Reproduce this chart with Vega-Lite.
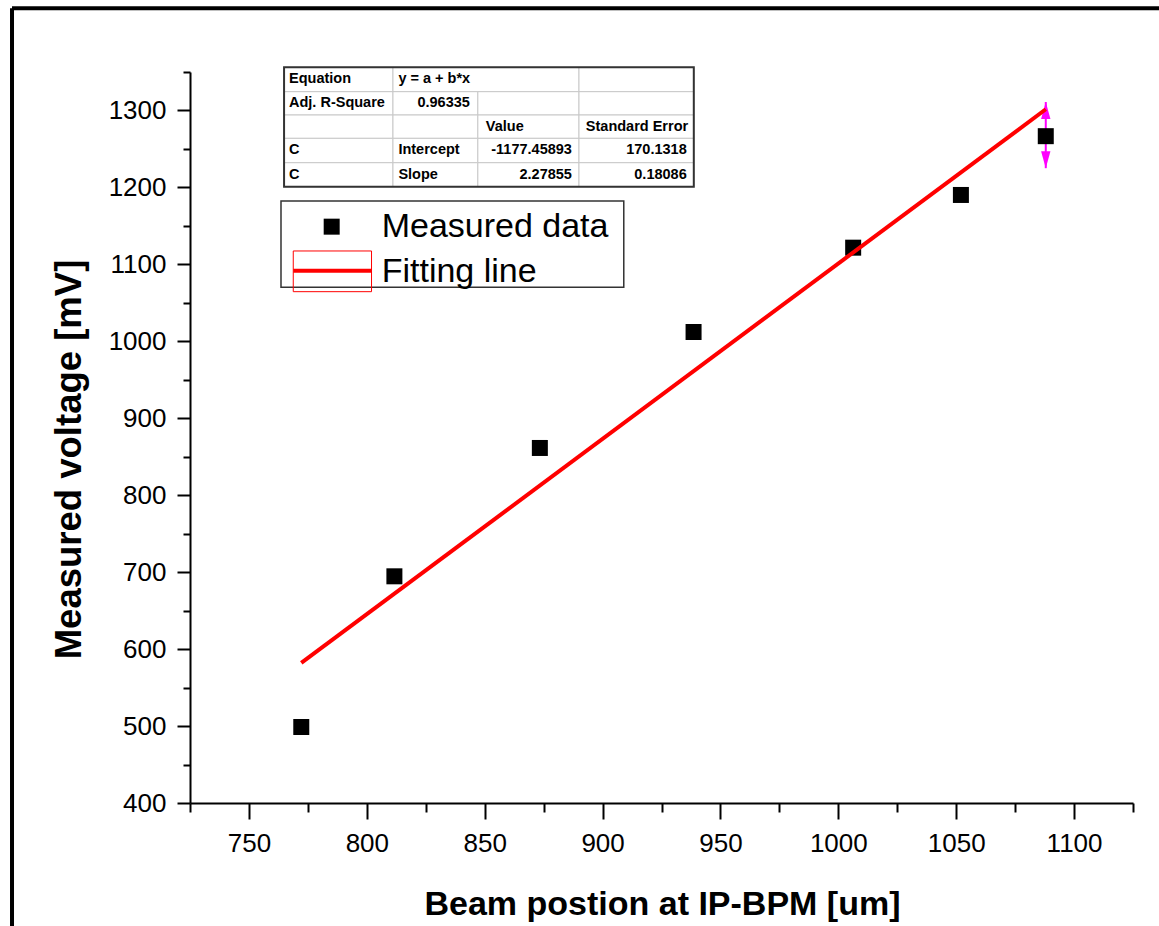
{
  "$schema": "https://vega.github.io/schema/vega-lite/v6.json",
  "autosize": {"type": "none"},
  "padding": {"left": 190, "top": 72, "right": 26, "bottom": 123},
  "width": 943,
  "height": 731,
  "background": "white",
  "config": {
    "view": {"stroke": null},
    "axis": {
      "domainColor": "black", "domainWidth": 2, "tickColor": "black", "tickWidth": 2,
      "labelFont": "Liberation Sans", "labelFontSize": 26, "labelColor": "black",
      "titleFont": "Liberation Sans", "titleFontSize": 34, "titleFontWeight": "bold", "titleColor": "black",
      "grid": false, "labelOverlap": false, "labelFlush": false
    }
  },
  "datasets": {
    "measured": [
      {"x": 772.2, "y": 498.8}, {"x": 811.7, "y": 694.6}, {"x": 873.4, "y": 861.4},
      {"x": 938.6, "y": 1012.1}, {"x": 1006.3, "y": 1121.7}, {"x": 1052.0, "y": 1190.2},
      {"x": 1088.0, "y": 1266.6}
    ],
    "fit": [{"x": 772.2, "y": 582.0}, {"x": 1088.0, "y": 1301.6}],
    "errbar": [{"x": 1088.0, "y": 1225, "y2": 1311}],
    "frame": [
      {"x": 649.5, "x2": 1140, "y": 1433, "y2": 1433},
      {"x": 649.5, "x2": 649.5, "y": 1433, "y2": 230}
    ],
    "cells": [
      {"x": 764.9, "x2": 811.1, "y": 1356.1, "y2": 1324.4},
      {"x": 811.1, "x2": 890.0, "y": 1356.1, "y2": 1324.4},
      {"x": 890.0, "x2": 938.7, "y": 1356.1, "y2": 1324.4},
      {"x": 764.9, "x2": 811.1, "y": 1324.4, "y2": 1294.1},
      {"x": 811.1, "x2": 847.1, "y": 1324.4, "y2": 1294.1},
      {"x": 847.1, "x2": 890.0, "y": 1324.4, "y2": 1294.1},
      {"x": 890.0, "x2": 938.7, "y": 1324.4, "y2": 1294.1},
      {"x": 764.9, "x2": 811.1, "y": 1294.1, "y2": 1263.8},
      {"x": 811.1, "x2": 847.1, "y": 1294.1, "y2": 1263.8},
      {"x": 847.1, "x2": 890.0, "y": 1294.1, "y2": 1263.8},
      {"x": 890.0, "x2": 938.7, "y": 1294.1, "y2": 1263.8},
      {"x": 764.9, "x2": 811.1, "y": 1263.8, "y2": 1232.1},
      {"x": 811.1, "x2": 847.1, "y": 1263.8, "y2": 1232.1},
      {"x": 847.1, "x2": 890.0, "y": 1263.8, "y2": 1232.1},
      {"x": 890.0, "x2": 938.7, "y": 1263.8, "y2": 1232.1},
      {"x": 764.9, "x2": 811.1, "y": 1232.1, "y2": 1200.9},
      {"x": 811.1, "x2": 847.1, "y": 1232.1, "y2": 1200.9},
      {"x": 847.1, "x2": 890.0, "y": 1232.1, "y2": 1200.9},
      {"x": 890.0, "x2": 938.7, "y": 1232.1, "y2": 1200.9}
    ],
    "tableBox": [{"x": 764.9, "x2": 938.7, "y": 1356.1, "y2": 1200.9}],
    "tableLeft": [
      {"x": 767.0, "y": 1340.3, "t": "Equation"},
      {"x": 813.4, "y": 1340.3, "t": "y = a + b*x"},
      {"x": 767.0, "y": 1309.2, "t": "Adj. R-Square"},
      {"x": 850.5, "y": 1278.9, "t": "Value"},
      {"x": 892.9, "y": 1278.9, "t": "Standard Error"},
      {"x": 767.0, "y": 1248.0, "t": "C"},
      {"x": 813.4, "y": 1248.0, "t": "Intercept"},
      {"x": 767.0, "y": 1216.5, "t": "C"},
      {"x": 813.4, "y": 1216.5, "t": "Slope"}
    ],
    "tableRight": [
      {"x": 843.7, "y": 1309.2, "t": "0.96335"},
      {"x": 887.0, "y": 1248.0, "t": "-1177.45893"},
      {"x": 935.7, "y": 1248.0, "t": "170.1318"},
      {"x": 887.0, "y": 1216.5, "t": "2.27855"},
      {"x": 935.7, "y": 1216.5, "t": "0.18086"}
    ],
    "legendBox": [{"x": 763.6, "x2": 909.0, "y": 1182.4, "y2": 1070.2}],
    "legendSquare": [{"x": 785.1, "y": 1149.0}],
    "legendLineBox": [{"x": 768.8, "x2": 802.0, "y": 1117.4, "y2": 1064.5}],
    "legendLine": [{"x": 768.8, "x2": 802.0, "y": 1091.8, "y2": 1091.8}],
    "legendText": [
      {"x": 806.3, "y": 1136.0, "t": "Measured data"},
      {"x": 806.3, "y": 1077.5, "t": "Fitting line"}
    ]
  },
  "encoding": {
    "x": {
      "field": "x", "type": "quantitative",
      "scale": {"domain": [725, 1125], "nice": false, "zero": false},
      "title": "Beam postion at IP-BPM [um]",
      "axis": {
        "values": [725, 750, 775, 800, 825, 850, 875, 900, 925, 950, 975, 1000, 1025, 1050, 1075, 1100, 1125],
        "labelExpr": "datum.value % 50 === 0 ? '' + datum.value : ''",
        "tickSize": {"condition": {"test": "datum.value % 50 === 0", "value": 16}, "value": 9},
        "labelBaseline": "alphabetic",
        "labelPadding": 32,
        "titleX": 472, "titleY": 111, "titleBaseline": "alphabetic"
      }
    },
    "y": {
      "field": "y", "type": "quantitative",
      "scale": {"domain": [400, 1350], "nice": false, "zero": false},
      "title": "Measured voltage [mV]",
      "axis": {
        "values": [400, 450, 500, 550, 600, 650, 700, 750, 800, 850, 900, 950, 1000, 1050, 1100, 1150, 1200, 1250, 1300, 1350],
        "labelExpr": "datum.value % 100 === 0 ? '' + datum.value : ''",
        "tickSize": {"condition": {"test": "datum.value % 100 === 0", "value": 13}, "value": 7},
        "labelPadding": 11,
        "titleFontSize": 36.5,
        "titleX": -110, "titleY": 387, "titleBaseline": "alphabetic", "titleAngle": 270
      }
    }
  },
  "layer": [
    {
      "data": {"name": "frame"},
      "mark": {"type": "rule", "color": "black", "strokeWidth": 4, "clip": false},
      "encoding": {"x2": {"field": "x2"}, "y2": {"field": "y2"}}
    },
    {
      "data": {"name": "errbar"},
      "mark": {"type": "rule", "color": "#ff00ff", "strokeWidth": 2, "clip": false},
      "encoding": {"y2": {"field": "y2"}}
    },
    {
      "data": {"name": "errbar"},
      "mark": {"type": "point", "shape": "M0,0L0.55,2L-0.55,2Z", "size": 289, "filled": true, "color": "#ff00ff", "opacity": 1, "clip": false},
      "encoding": {"y": {"field": "y2", "type": "quantitative"}}
    },
    {
      "data": {"name": "errbar"},
      "mark": {"type": "point", "shape": "M0,0L0.55,-2L-0.55,-2Z", "size": 289, "filled": true, "color": "#ff00ff", "opacity": 1, "clip": false},
      "encoding": {}
    },
    {
      "data": {"name": "measured"},
      "mark": {"type": "point", "shape": "square", "size": 256, "filled": true, "color": "black", "opacity": 1, "clip": false},
      "encoding": {}
    },
    {
      "data": {"name": "fit"},
      "mark": {"type": "line", "color": "#ff0000", "strokeWidth": 4, "clip": false},
      "encoding": {}
    },
    {
      "data": {"name": "cells"},
      "mark": {"type": "rect", "fill": "white", "stroke": "#c8c8c8", "strokeWidth": 1, "clip": false},
      "encoding": {"x2": {"field": "x2"}, "y2": {"field": "y2"}}
    },
    {
      "data": {"name": "tableBox"},
      "mark": {"type": "rect", "fill": null, "fillOpacity": 0, "stroke": "#333333", "strokeWidth": 2, "clip": false},
      "encoding": {"x2": {"field": "x2"}, "y2": {"field": "y2"}}
    },
    {
      "data": {"name": "tableLeft"},
      "mark": {"type": "text", "align": "left", "baseline": "middle", "font": "Liberation Sans", "fontWeight": "bold", "fontSize": 14.5, "color": "black", "clip": false},
      "encoding": {"text": {"field": "t"}}
    },
    {
      "data": {"name": "tableRight"},
      "mark": {"type": "text", "align": "right", "baseline": "middle", "font": "Liberation Sans", "fontWeight": "bold", "fontSize": 14.5, "color": "black", "clip": false},
      "encoding": {"text": {"field": "t"}}
    },
    {
      "data": {"name": "legendBox"},
      "mark": {"type": "rect", "fill": "white", "stroke": "#333333", "strokeWidth": 1.5, "clip": false},
      "encoding": {"x2": {"field": "x2"}, "y2": {"field": "y2"}}
    },
    {
      "data": {"name": "legendSquare"},
      "mark": {"type": "point", "shape": "square", "size": 256, "filled": true, "color": "black", "opacity": 1, "clip": false},
      "encoding": {}
    },
    {
      "data": {"name": "legendLineBox"},
      "mark": {"type": "rect", "fill": null, "fillOpacity": 0, "stroke": "#ff0000", "strokeWidth": 1, "clip": false},
      "encoding": {"x2": {"field": "x2"}, "y2": {"field": "y2"}}
    },
    {
      "data": {"name": "legendLine"},
      "mark": {"type": "rule", "color": "#ff0000", "strokeWidth": 4, "clip": false},
      "encoding": {"x2": {"field": "x2"}, "y2": {"field": "y2"}}
    },
    {
      "data": {"name": "legendText"},
      "mark": {"type": "text", "align": "left", "baseline": "alphabetic", "font": "Liberation Sans", "fontSize": 34, "color": "black", "clip": false},
      "encoding": {"text": {"field": "t"}}
    }
  ]
}
